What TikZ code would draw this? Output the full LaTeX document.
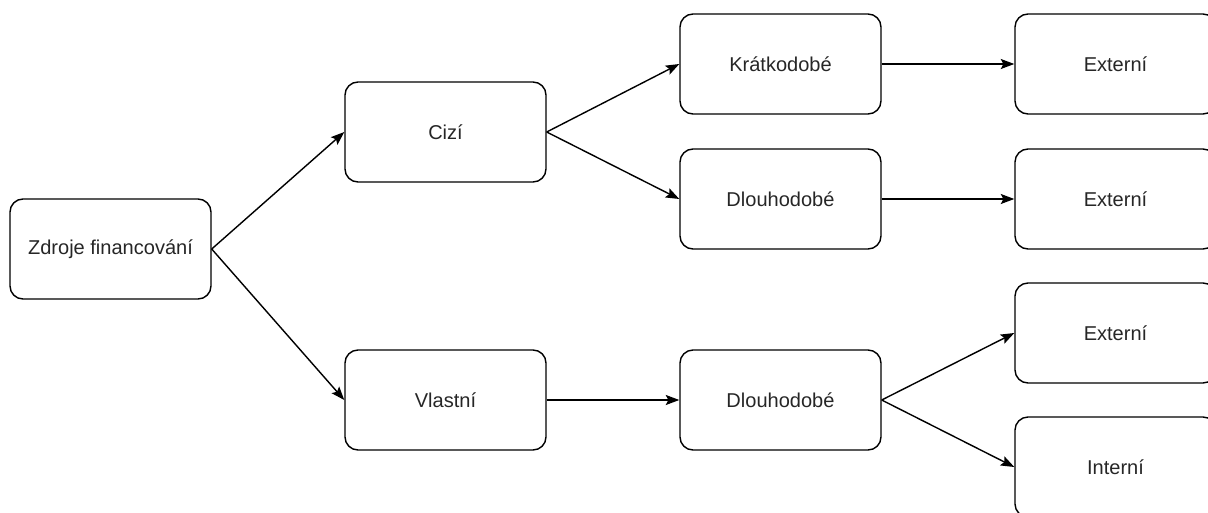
\documentclass[tikz,border=0pt]{standalone}
\usepackage{fontspec}
\setmainfont{Liberation Sans}
\usetikzlibrary{arrows.meta}
\tikzstyle{source} = [rectangle, rounded corners=0.26cm,
minimum width=4.02cm,
minimum height=2cm,
text centered,
draw=black,
line width=0.8pt,
text=black!85,
font=\fontsize{11.4}{13.7}\selectfont]
\tikzstyle{arrow} = [line width=0.8pt,-{Stealth[length=0.27cm,width=0.2cm,inset=0.05cm]}]
\begin{document}
\begin{tikzpicture}[node distance=6.7cm]
\clip (0,0) rectangle (24.16,-10.24);
\useasboundingbox (0,0) rectangle (24.16,-10.24);

\node (zdroje) [source] at (2.21,-4.98) {Zdroje financování};

% cizí zdroje
\node (cizi) [source, right of=zdroje, yshift=2.34cm] {Cizí};
\node (kratko) [source, right of=cizi, yshift=1.36cm] {Krátkodobé};
\node (dlouho1) [source, right of=cizi, yshift=-1.34cm] {Dlouhodobé};
\node (ext1) [source, right of=kratko] {Externí};
\node (ext2) [source, right of=dlouho1] {Externí};

% vlastní zdroje
\node (vlastni) [source, right of=zdroje, yshift=-3.02cm] {Vlastní};
\node (dlouho2) [source, right of=vlastni] {Dlouhodobé};
\node (ext3) [source, right of=dlouho2, yshift=1.34cm] {Externí};
\node (intern) [source, right of=dlouho2, yshift=-1.34cm] {Interní};

\draw [arrow] (zdroje.east) -- (cizi.west);
\draw [arrow] (zdroje.east) -- (vlastni.west);
\draw [arrow] (cizi.east) -- (kratko.west);
\draw [arrow] (cizi.east) -- (dlouho1.west);
\draw [arrow] (kratko) -- (ext1);
\draw [arrow] (dlouho1) -- (ext2);
\draw [arrow] (vlastni) -- (dlouho2);
\draw [arrow] (dlouho2.east) -- (ext3.west);
\draw [arrow] (dlouho2.east) -- (intern.west);

\end{tikzpicture}
\end{document}
